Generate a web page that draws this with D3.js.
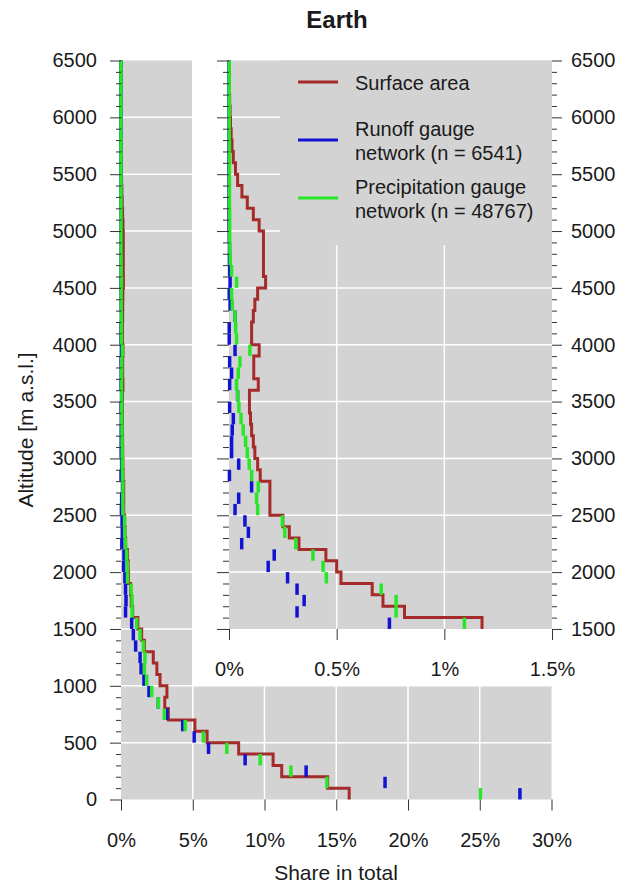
<!DOCTYPE html>
<html>
<head>
<meta charset="utf-8">
<script src="https://cdn.jsdelivr.net/npm/d3@7"></script>
<style>
body{margin:0;background:#fff}
text{font-family:"Liberation Sans",Arial,sans-serif;fill:#1a1a1a}
</style>
</head>
<body>
<svg id="chart" width="635" height="884"></svg>
<script>
// lower edge of each 100 m altitude band
var altitude = [0,100,200,300,400,500,600,700,800,900,1000,1100,1200,1300,1400,1500,1600,1700,1800,1900,
  2000,2100,2200,2300,2400,2500,2600,2700,2800,2900,3000,3100,3200,3300,3400,3500,3600,3700,3800,3900,
  4000,4100,4200,4300,4400,4500,4600,4700,4800,4900,5000,5100,5200,5300,5400,5500,5600,5700,5800,5900,
  6000,6100,6200,6300,6400];
var binSize = 100;

// share in total [%]
var surfaceArea = [15.9,14.4,11.2,10.6,8.2,6.0,5.15,3.3,3.05,3.2,2.72,2.5,2.25,1.63,1.44,1.175,0.815,0.715,0.665,0.52,
  0.5,0.45,0.325,0.28,0.25,0.19,0.19,0.19,0.145,0.133,0.12,0.113,0.105,0.1,0.095,0.095,0.136,0.115,0.115,0.14,
  0.105,0.105,0.113,0.12,0.133,0.17,0.16,0.16,0.16,0.16,0.14,0.113,0.085,0.06,0.04,0.03,0.02,0.014,0.01,0.007,
  0.005,0.003,0.002,0.001,0.0005];
var runoffGauges = [27.8,18.4,12.9,8.65,6.1,5.1,4.3,3.2,2.6,1.95,1.6,1.4,1.33,1.02,0.86,0.745,0.316,0.349,0.316,0.272,
  0.182,0.21,0.059,0.09,0.074,0.028,0.045,0.105,0.002,0.045,0.012,0.012,0.015,0.02,0.003,0.04,0.003,0.012,0.003,0.028,
  0.001,0.001,0.028,0.005,0.001,0.005,0.003,0.002,0.002,0.001,0,0,0,0,0,0,0,0,0,0,
  0,0,0,0,0];
var precipGauges = [25.05,14.35,11.84,9.7,7.37,5.74,4.47,3.02,2.6,2.14,1.79,1.63,1.67,1.56,1.33,1.093,0.776,0.776,0.707,0.452,
  0.437,0.39,0.31,0.259,0.248,0.133,0.128,0.136,0.105,0.094,0.085,0.077,0.066,0.056,0.046,0.04,0.035,0.043,0.051,0.097,
  0.035,0.031,0.028,0.015,0.012,0.035,0.012,0.006,0.004,0.003,0.003,0.003,0.002,0.002,0.002,0.002,0.002,0.002,0.001,0.001,
  0.001,0.001,0.001,0.001,0.001];

var mainXTicks = [0,5,10,15,20,25,30];
var mainXLabels = ["0%","5%","10%","15%","20%","25%","30%"];
var insetXTicks = [0,0.5,1,1.5];
var insetXLabels = ["0%","0.5%","1%","1.5%"];
var altMajor = [0,500,1000,1500,2000,2500,3000,3500,4000,4500,5000,5500,6000,6500];
var legendLabels = [["Surface area"],["Runoff gauge","network (n = 6541)"],["Precipitation gauge","network (n = 48767)"]];
var colors = ["#a52a2a","#1212d2","#28e628"];

var svg = d3.select("#chart");
var panel = "#d3d3d3";

var x = d3.scaleLinear().domain([0,30]).range([121,551.5]);
var y = d3.scaleLinear().domain([0,6500]).range([799.5,60.5]);
var xi = d3.scaleLinear().domain([0,1.5]).range([229,552]);

var altMinor = d3.range(0,6501,100).filter(function(a){return a%500!=0;});

// ---- main panel ----
svg.append("rect").attr("x",x(0)).attr("y",y(6500))
  .attr("width",x(30)-x(0)).attr("height",y(0)-y(6500)).attr("fill",panel);

svg.selectAll(".gx").data(mainXTicks.slice(1,-1)).enter().append("line")
  .attr("x1",function(d){return x(d);}).attr("x2",function(d){return x(d);})
  .attr("y1",y(0)).attr("y2",y(6500)).attr("stroke","#fff").attr("stroke-width",1.5);
svg.selectAll(".gy").data(altMajor.slice(1,-1)).enter().append("line")
  .attr("x1",x(0)).attr("x2",x(30))
  .attr("y1",function(d){return y(d);}).attr("y2",function(d){return y(d);})
  .attr("stroke","#fff").attr("stroke-width",1.5);

// white area behind the inset
svg.append("rect").attr("x",x(5)).attr("y",0)
  .attr("width",635-x(5)).attr("height",y(1000)).attr("fill","#fff");

function stepPoints(vals,minAlt){
  var pts = [];
  vals.forEach(function(v,i){
    if(altitude[i] < minAlt) return;
    pts.push([v,altitude[i]]);
    pts.push([v,altitude[i]+binSize]);
  });
  return pts;
}

function drawSeries(g,xs,minAlt){
  var line = d3.line().x(function(d){return xs(d[0]);}).y(function(d){return y(d[1]);});
  g.append("path").attr("d",line(stepPoints(surfaceArea,minAlt)))
    .attr("fill","none").attr("stroke",colors[0]).attr("stroke-width",3).attr("stroke-linejoin","miter");
  [runoffGauges,precipGauges].forEach(function(vals,k){
    var idx = d3.range(vals.length).filter(function(i){return altitude[i]>=minAlt;});
    g.append("g").selectAll("line").data(idx).enter().append("line")
      .attr("x1",function(i){return xs(vals[i]);}).attr("x2",function(i){return xs(vals[i]);})
      .attr("y1",function(i){return y(altitude[i]);}).attr("y2",function(i){return y(altitude[i]+binSize);})
      .attr("stroke",colors[k+1]).attr("stroke-width",3.5);
  });
}

drawSeries(svg.append("g"),x,0);

// axes of main panel
function ticks(axis,g){
  g.call(axis);
  g.select(".domain").remove();
  g.selectAll("line").attr("stroke","#333");
  g.selectAll("text").attr("font-size",20).attr("fill","#1a1a1a")
    .attr("font-family","'Liberation Sans',Arial,sans-serif");
}
ticks(d3.axisLeft(y).tickValues(altMinor).tickSize(5).tickFormat(""),
  svg.append("g").attr("transform","translate("+x(0)+",0)"));
ticks(d3.axisLeft(y).tickValues(altMajor).tickSize(11).tickPadding(13).tickFormat(d3.format("d")),
  svg.append("g").attr("transform","translate("+x(0)+",0)"));
ticks(d3.axisBottom(x).tickValues(mainXTicks).tickSize(11).tickPadding(22)
    .tickFormat(function(d,i){return mainXLabels[i];}),
  svg.append("g").attr("transform","translate(0,"+y(0)+")"));

// ---- inset panel ----
var inset = svg.append("g");
inset.append("rect").attr("x",xi(0)).attr("y",y(6500))
  .attr("width",xi(1.5)-xi(0)).attr("height",y(1500)-y(6500)).attr("fill",panel);
inset.selectAll(".ix").data(insetXTicks.slice(1,-1)).enter().append("line")
  .attr("x1",function(d){return xi(d);}).attr("x2",function(d){return xi(d);})
  .attr("y1",y(1500)).attr("y2",y(6500)).attr("stroke","#fff").attr("stroke-width",1.5);
inset.selectAll(".iy").data(altMajor.filter(function(a){return a>1500 && a<6500;})).enter().append("line")
  .attr("x1",xi(0)).attr("x2",xi(1.5))
  .attr("y1",function(d){return y(d);}).attr("y2",function(d){return y(d);})
  .attr("stroke","#fff").attr("stroke-width",1.5);

// legend background
inset.append("rect").attr("x",280).attr("y",y(6500))
  .attr("width",xi(1.5)-280).attr("height",245-y(6500)).attr("fill",panel);

drawSeries(inset.append("g"),xi,1500);

var altMinorI = altMinor.filter(function(a){return a>1500;});
var altMajorI = altMajor.filter(function(a){return a>=1500;});
ticks(d3.axisLeft(y).tickValues(altMinorI).tickSize(6).tickFormat(""),
  svg.append("g").attr("transform","translate("+xi(0)+",0)"));
ticks(d3.axisLeft(y).tickValues(altMajorI).tickSize(12).tickFormat(""),
  svg.append("g").attr("transform","translate("+xi(0)+",0)"));
ticks(d3.axisRight(y).tickValues(altMinorI).tickSize(5).tickFormat(""),
  svg.append("g").attr("transform","translate("+xi(1.5)+",0)"));
ticks(d3.axisRight(y).tickValues(altMajorI).tickSize(10).tickPadding(9).tickFormat(d3.format("d")),
  svg.append("g").attr("transform","translate("+xi(1.5)+",0)"));
ticks(d3.axisBottom(xi).tickValues(insetXTicks).tickSize(11).tickPadding(22)
    .tickFormat(function(d,i){return insetXLabels[i];}),
  svg.append("g").attr("transform","translate(0,"+y(1500)+")"));

// legend
var legendY = [82,140,198];
var leg = svg.append("g");
legendLabels.forEach(function(lines,i){
  leg.append("line").attr("x1",298).attr("x2",338).attr("y1",legendY[i]).attr("y2",legendY[i])
    .attr("stroke",colors[i]).attr("stroke-width",3);
  var t = leg.append("text").attr("x",355).attr("font-size",20);
  var y0 = lines.length==1 ? legendY[i]+7.5 : legendY[i]-4.5;
  lines.forEach(function(s,j){
    t.append("tspan").attr("x",355).attr("y",y0+j*24).text(s);
  });
});

// titles
svg.append("text").attr("x",337).attr("y",28).attr("text-anchor","middle")
  .attr("font-size",24).attr("font-weight","bold").text("Earth");
svg.append("text").attr("x",336).attr("y",880).attr("text-anchor","middle")
  .attr("font-size",21).text("Share in total");
svg.append("text").attr("transform","translate(33,430) rotate(-90)").attr("text-anchor","middle")
  .attr("font-size",21).text("Altitude [m a.s.l.]");
</script>
</body>
</html>
